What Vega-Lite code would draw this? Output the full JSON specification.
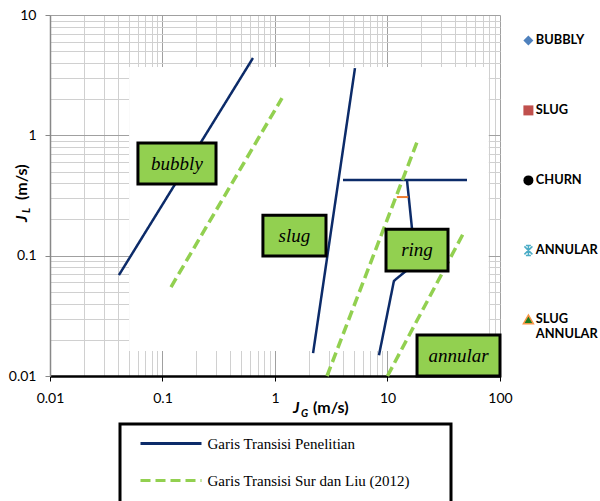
{
  "$schema": "https://vega.github.io/schema/vega-lite/v6.json",
  "width": 450,
  "height": 361,
  "autosize": "none",
  "padding": {"left": 50, "top": 15, "right": 100, "bottom": 125},
  "background": "white",
  "config": {"view": {"stroke": null}, "font": "Lato"},
  "datasets": {
    "region": [{"x1": 0.0505, "x2": 79.5, "y1": 0.0161, "y2": 3.7}],
    "lines": [
      {"seg": "p1", "series": "Garis Transisi Penelitian", "x": 0.041, "y": 0.069},
      {"seg": "p1", "series": "Garis Transisi Penelitian", "x": 0.637, "y": 4.39},
      {"seg": "p2", "series": "Garis Transisi Penelitian", "x": 2.18, "y": 0.0155},
      {"seg": "p2", "series": "Garis Transisi Penelitian", "x": 5.14, "y": 3.62},
      {"seg": "p3", "series": "Garis Transisi Penelitian", "x": 4.02, "y": 0.425},
      {"seg": "p3", "series": "Garis Transisi Penelitian", "x": 50.9, "y": 0.425},
      {"seg": "p4", "series": "Garis Transisi Penelitian", "x": 14.9, "y": 0.425},
      {"seg": "p4", "series": "Garis Transisi Penelitian", "x": 16.6, "y": 0.16},
      {"seg": "p5", "series": "Garis Transisi Penelitian", "x": 8.4, "y": 0.0149},
      {"seg": "p5", "series": "Garis Transisi Penelitian", "x": 11.4, "y": 0.0615},
      {"seg": "p5", "series": "Garis Transisi Penelitian", "x": 11.9, "y": 0.0638},
      {"seg": "p5", "series": "Garis Transisi Penelitian", "x": 15.2, "y": 0.077},
      {"seg": "s1", "series": "Garis Transisi Sur dan Liu (2012)", "x": 0.119, "y": 0.0548},
      {"seg": "s1", "series": "Garis Transisi Sur dan Liu (2012)", "x": 1.154, "y": 2.04},
      {"seg": "s2", "series": "Garis Transisi Sur dan Liu (2012)", "x": 2.9, "y": 0.01},
      {"seg": "s2", "series": "Garis Transisi Sur dan Liu (2012)", "x": 18.3, "y": 0.879},
      {"seg": "s3", "series": "Garis Transisi Sur dan Liu (2012)", "x": 10, "y": 0.01},
      {"seg": "s3", "series": "Garis Transisi Sur dan Liu (2012)", "x": 47.9, "y": 0.157}
    ],
    "orange": [{"x": 12.1, "y": 0.307}, {"x": 15.3, "y": 0.307}],
    "boxes": [
      {"label": "bubbly", "x1": 0.0605, "x2": 0.299, "y1": 0.394, "y2": 0.863, "tx": 0.1345, "ty": 0.583},
      {"label": "slug", "x1": 0.781, "x2": 2.84, "y1": 0.0993, "y2": 0.217, "tx": 1.489, "ty": 0.1468},
      {"label": "ring", "x1": 9.7, "x2": 34.5, "y1": 0.0745, "y2": 0.166, "tx": 18.3, "ty": 0.1112},
      {"label": "annular", "x1": 18.3, "x2": 100, "y1": 0.01, "y2": 0.0219, "tx": 42.8, "ty": 0.0148}
    ],
    "flows": [
      {"flow": "BUBBLY", "x": 0.001, "y": 0.001},
      {"flow": "SLUG", "x": 0.001, "y": 0.001},
      {"flow": "CHURN", "x": 0.001, "y": 0.001},
      {"flow": "ANNULAR", "x": 0.001, "y": 0.001},
      {"flow": "SLUG ANNULAR", "x": 0.001, "y": 0.001}
    ]
  },
  "layer": [
    {
      "data": {"name": "region"},
      "mark": {"type": "rect", "fill": "white", "strokeWidth": 0},
      "encoding": {
        "x": {"field": "x1", "type": "quantitative", "scale": {"type": "log", "domain": [0.01, 100]},
          "axis": {"orient": "bottom", "values": [0.02,0.03,0.04,0.05,0.06,0.07,0.08,0.09,0.2,0.3,0.4,0.5,0.6,0.7,0.8,0.9,2,3,4,5,6,7,8,9,20,30,40,50,60,70,80,90],
            "grid": true, "gridColor": "#d0d0d0", "gridWidth": 1, "labels": false, "ticks": false, "domain": false, "title": null}},
        "x2": {"field": "x2"},
        "y": {"field": "y1", "type": "quantitative", "scale": {"type": "log", "domain": [0.01, 10]},
          "axis": {"orient": "left", "values": [0.02,0.03,0.04,0.05,0.06,0.07,0.08,0.09,0.2,0.3,0.4,0.5,0.6,0.7,0.8,0.9,2,3,4,5,6,7,8,9],
            "grid": true, "gridColor": "#d0d0d0", "gridWidth": 1, "labels": false, "ticks": false, "domain": false, "title": null}},
        "y2": {"field": "y2"}
      }
    },
    {
      "data": {"name": "lines"},
      "transform": [{"filter": "datum.series == 'Garis Transisi Penelitian'"}],
      "mark": {"type": "line", "strokeWidth": 2.5},
      "encoding": {
        "x": {"field": "x", "type": "quantitative", "scale": {"type": "log", "domain": [0.01, 100]},
          "axis": {"orient": "bottom", "values": [0.01, 0.1, 1, 10, 100], "format": "~g", "grid": true, "gridColor": "#a0a0a0", "gridWidth": 1,
            "domainColor": "black", "domainWidth": 2.5, "tickColor": "black", "tickSize": 5, "tickWidth": 1,
            "labelFont": "Lato", "labelFontSize": 14, "labelColor": "black", "labelPadding": 10, "title": null, "labelFlush": false}},
        "y": {"field": "y", "type": "quantitative", "scale": {"type": "log", "domain": [0.01, 10]},
          "axis": {"orient": "left", "values": [0.01, 0.1, 1, 10], "format": "~g", "grid": true, "gridColor": "#a0a0a0", "gridWidth": 1,
            "domainColor": "#888888", "domainWidth": 1.5, "tickColor": "#888888", "tickSize": 5, "tickWidth": 1,
            "labelFont": "Lato", "labelFontSize": 14, "labelColor": "black", "labelPadding": 9, "title": null, "labelFlush": false}},
        "detail": {"field": "seg"},
        "color": {"field": "series", "type": "nominal",
          "scale": {"domain": ["Garis Transisi Penelitian", "Garis Transisi Sur dan Liu (2012)", " "], "range": ["#0C2B69", "#92D050", "transparent"]},
          "legend": {"orient": "none", "legendX": 70, "legendY": 409, "title": "___", "titleOrient": "right", "titleColor": "transparent",
            "titleFont": "Lato", "titleFontSize": 11, "titlePadding": 13, "direction": "vertical",
            "symbolType": "M-6.1,0L6.1,0", "symbolSize": 100, "symbolStrokeWidth": 3, "symbolOffset": 31.5,
            "labelFont": "Liberation Serif", "labelFontSize": 15, "labelColor": "black", "labelLimit": 500, "labelOffset": 29,
            "labelExpr": "datum.value == ' ' ? '' : datum.label",
            "rowPadding": 21, "padding": 12, "strokeColor": "black",
            "encode": {"legend": {"update": {"strokeWidth": {"value": 3}}}}}},
        "strokeDash": {"field": "series", "type": "nominal",
          "scale": {"domain": ["Garis Transisi Penelitian", "Garis Transisi Sur dan Liu (2012)", " "], "range": [[1, 0], [10, 5], [1, 0]]},
          "legend": {"orient": "none", "legendX": 70, "legendY": 409, "title": "___", "titleOrient": "right"}}
      }
    },
    {
      "data": {"name": "lines"},
      "transform": [{"filter": "datum.series != 'Garis Transisi Penelitian'"}],
      "mark": {"type": "line", "strokeWidth": 3.5},
      "encoding": {
        "x": {"field": "x", "type": "quantitative", "scale": {"type": "log", "domain": [0.01, 100]}, "axis": null},
        "y": {"field": "y", "type": "quantitative", "scale": {"type": "log", "domain": [0.01, 10]}, "axis": null},
        "detail": {"field": "seg"},
        "color": {"field": "series", "type": "nominal"},
        "strokeDash": {"field": "series", "type": "nominal"}
      }
    },
    {
      "data": {"name": "orange"},
      "mark": {"type": "line", "color": "#ED7D31", "strokeWidth": 2},
      "encoding": {
        "x": {"field": "x", "type": "quantitative", "scale": {"type": "log", "domain": [0.01, 100]}, "axis": null},
        "y": {"field": "y", "type": "quantitative", "scale": {"type": "log", "domain": [0.01, 10]}, "axis": null}
      }
    },
    {
      "data": {"name": "boxes"},
      "mark": {"type": "rect", "fill": "#92D050", "stroke": "black", "strokeWidth": 3},
      "encoding": {
        "x": {"field": "x1", "type": "quantitative", "scale": {"type": "log", "domain": [0.01, 100]}, "axis": null},
        "x2": {"field": "x2"},
        "y": {"field": "y1", "type": "quantitative", "scale": {"type": "log", "domain": [0.01, 10]}, "axis": null},
        "y2": {"field": "y2"}
      }
    },
    {
      "data": {"name": "boxes"},
      "mark": {"type": "text", "font": "Liberation Serif", "fontStyle": "italic", "fontSize": 19, "color": "black", "align": "center", "baseline": "middle"},
      "encoding": {
        "x": {"field": "tx", "type": "quantitative", "scale": {"type": "log", "domain": [0.01, 100]}, "axis": null},
        "y": {"field": "ty", "type": "quantitative", "scale": {"type": "log", "domain": [0.01, 10]}, "axis": null},
        "text": {"field": "label"}
      }
    },
    {
      "data": {"name": "flows"},
      "mark": {"type": "point", "clip": true, "filled": true, "strokeWidth": 1.5, "opacity": 1},
      "encoding": {
        "x": {"field": "x", "type": "quantitative", "scale": {"type": "log", "domain": [0.01, 100]}, "axis": null},
        "y": {"field": "y", "type": "quantitative", "scale": {"type": "log", "domain": [0.01, 10]}, "axis": null},
        "fill": {"field": "flow", "type": "nominal",
          "scale": {"domain": ["BUBBLY", "SLUG", "CHURN", "ANNULAR", "SLUG ANNULAR"], "range": ["#4F81BD", "#C0504D", "#000000", "transparent", "#1E7B1E"]},
          "legend": {"orient": "none", "legendX": 472, "legendY": 19, "title": null, "symbolSize": 100, "symbolStrokeWidth": 1.5,
            "labelFont": "Lato", "labelFontSize": 12.8, "labelFontWeight": "bold", "labelColor": "black", "labelOffset": 1, "rowPadding": 53,
            "labelExpr": "datum.label == 'SLUG ANNULAR' ? ['SLUG', 'ANNULAR'] : datum.label", "padding": 0}},
        "stroke": {"field": "flow", "type": "nominal",
          "scale": {"domain": ["BUBBLY", "SLUG", "CHURN", "ANNULAR", "SLUG ANNULAR"], "range": ["transparent", "transparent", "transparent", "#4BACC6", "#F79646"]},
          "legend": {"orient": "none", "legendX": 472, "legendY": 19, "title": null}},
        "shape": {"field": "flow", "type": "nominal",
          "scale": {"domain": ["BUBBLY", "SLUG", "CHURN", "ANNULAR", "SLUG ANNULAR"], "range": ["diamond", "square", "circle", "M-0.8,-0.8L0.8,0.8M-0.8,0.8L0.8,-0.8M0,-1L0,1M-0.5,-1L0.5,-1M-0.5,1L0.5,1", "triangle-up"]},
          "legend": {"orient": "none", "legendX": 472, "legendY": 19, "title": null}}
      }
    },
    {
      "data": {"values": [{}]},
      "mark": {"type": "text", "text": "J", "font": "Lato", "fontSize": 16, "fontWeight": "bold", "fontStyle": "italic", "align": "left", "baseline": "alphabetic", "color": "black"},
      "encoding": {
        "x": {"datum": 1.445, "type": "quantitative", "scale": {"type": "log", "domain": [0.01, 100]}, "axis": null},
        "y": {"datum": 0.00491, "type": "quantitative", "scale": {"type": "log", "domain": [0.01, 10]}, "axis": null}
      }
    },
    {
      "data": {"values": [{}]},
      "mark": {"type": "text", "text": "G", "font": "Lato", "fontSize": 10.5, "fontWeight": "bold", "fontStyle": "italic", "align": "left", "baseline": "alphabetic", "color": "black"},
      "encoding": {
        "x": {"datum": 1.702, "type": "quantitative", "scale": {"type": "log", "domain": [0.01, 100]}, "axis": null},
        "y": {"datum": 0.00455, "type": "quantitative", "scale": {"type": "log", "domain": [0.01, 10]}, "axis": null}
      }
    },
    {
      "data": {"values": [{}]},
      "mark": {"type": "text", "text": "(m/s)", "font": "Lato", "fontSize": 16, "fontWeight": "bold", "align": "left", "baseline": "alphabetic", "color": "black"},
      "encoding": {
        "x": {"datum": 2.177, "type": "quantitative", "scale": {"type": "log", "domain": [0.01, 100]}, "axis": null},
        "y": {"datum": 0.00491, "type": "quantitative", "scale": {"type": "log", "domain": [0.01, 10]}, "axis": null}
      }
    },
    {
      "data": {"values": [{}]},
      "mark": {"type": "text", "text": "J", "font": "Lato", "fontSize": 16, "fontWeight": "bold", "fontStyle": "italic", "align": "left", "baseline": "alphabetic", "angle": 270, "color": "black"},
      "encoding": {
        "x": {"datum": 0.006246, "type": "quantitative", "scale": {"type": "log", "domain": [0.01, 100]}, "axis": null},
        "y": {"datum": 0.1903, "type": "quantitative", "scale": {"type": "log", "domain": [0.01, 10]}, "axis": null}
      }
    },
    {
      "data": {"values": [{}]},
      "mark": {"type": "text", "text": "L", "font": "Lato", "fontSize": 10.5, "fontWeight": "bold", "fontStyle": "italic", "align": "left", "baseline": "alphabetic", "angle": 270, "color": "black"},
      "encoding": {
        "x": {"datum": 0.006641, "type": "quantitative", "scale": {"type": "log", "domain": [0.01, 100]}, "axis": null},
        "y": {"datum": 0.226, "type": "quantitative", "scale": {"type": "log", "domain": [0.01, 10]}, "axis": null}
      }
    },
    {
      "data": {"values": [{}]},
      "mark": {"type": "text", "text": "(m/s)", "font": "Lato", "fontSize": 16, "fontWeight": "bold", "align": "left", "baseline": "alphabetic", "angle": 270, "color": "black"},
      "encoding": {
        "x": {"datum": 0.006246, "type": "quantitative", "scale": {"type": "log", "domain": [0.01, 100]}, "axis": null},
        "y": {"datum": 0.2899, "type": "quantitative", "scale": {"type": "log", "domain": [0.01, 10]}, "axis": null}
      }
    }
  ],
  "resolve": {"axis": {"x": "independent", "y": "independent"}}
}
